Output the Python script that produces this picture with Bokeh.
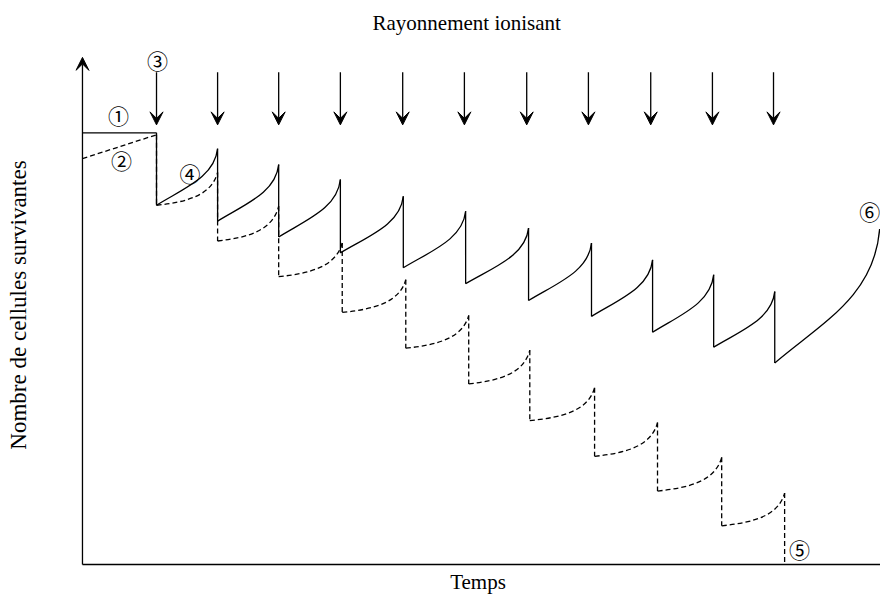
from bokeh.plotting import figure
from bokeh.models import Range1d, FixedTicker, Arrow, VeeHead, Label, ColumnDataSource
from bokeh.embed import file_html
from bokeh.resources import INLINE

# ---- data (time in dose intervals, cell number in arbitrary units) ----
dose_times = [1.20, 2.19, 3.18, 4.18, 5.19, 6.19, 7.20, 8.20, 9.21, 10.21, 11.20]
arrow_from = 496
arrow_to = 443

solid_start = 435
solid_drop_t = [1.20, 2.19, 3.18, 4.18, 5.20, 6.21, 7.23, 8.25, 9.24, 10.23, 11.22]
solid_peak = [435, 419, 403, 388, 371, 356, 339, 324, 307, 292, 275]
solid_trough = [362, 346, 330, 314, 299, 283, 266, 250, 234, 219, 203]
solid_end_t = 12.92
solid_end = 338

dashed_start = 409
dashed_drop_t = [1.20, 2.19, 3.18, 4.21, 5.24, 6.26, 7.25, 8.30, 9.32, 10.36, 11.38]
dashed_peak = [433, 395, 361, 324, 287, 251, 216, 178, 143, 108, 72]
dashed_trough = [362, 326, 290, 254, 218, 182, 145, 109, 74, 39, 0]

axis_top = 511
t_end = 12.934

labels = ["\u2460", "\u2461", "\u2462", "\u2463", "\u2464", "\u2465"]

SERIF = "Liberation Serif"
LW = 1.3
DASH = "5 3"


def curves(x0s, y0s, x1s, y1s, a0, b0, a1, b1):
    d = dict(x0=[], y0=[], x1=[], y1=[], cx0=[], cy0=[], cx1=[], cy1=[])
    for x0, y0, x1, y1 in zip(x0s, y0s, x1s, y1s):
        dx, dy = x1 - x0, y1 - y0
        d["x0"].append(x0); d["y0"].append(y0)
        d["x1"].append(x1); d["y1"].append(y1)
        d["cx0"].append(x0 + a0 * dx); d["cy0"].append(y0 + b0 * dy)
        d["cx1"].append(x1 - a1 * dx); d["cy1"].append(y1 - b1 * dy)
    return ColumnDataSource(d)


p = figure(width=880, height=596, x_range=Range1d(-0.113, t_end), y_range=Range1d(-3, 526),
           output_backend="svg", toolbar_location=None,
           min_border_left=75, min_border_right=0, min_border_top=40, min_border_bottom=27)
p.outline_line_color = None
p.xgrid.visible = False
p.ygrid.visible = False
p.background_fill_color = "white"
p.border_fill_color = "white"

p.title.text = "Rayonnement ionisant"
p.title.text_font = SERIF
p.title.text_font_size = "21px"
p.title.text_font_style = "normal"
p.title.text_color = "black"
p.title.align = "left"
p.title.offset = 297
p.title.standoff = 16

for ax, lab, fs in ((p.xaxis[0], "Temps", "21px"),
                    (p.yaxis[0], "Nombre de cellules survivantes", "23px")):
    ax.ticker = FixedTicker(ticks=[])
    ax.major_tick_out = 0
    ax.major_tick_in = 0
    ax.minor_tick_out = 0
    ax.minor_tick_in = 0
    ax.major_label_standoff = 0
    ax.axis_line_color = None
    ax.axis_label = lab
    ax.axis_label_text_font = SERIF
    ax.axis_label_text_font_size = fs
    ax.axis_label_text_font_style = "normal"
    ax.axis_label_text_color = "black"
p.xaxis[0].axis_label_standoff = 2
p.yaxis[0].axis_label_standoff = 45

# axes drawn as lines, y axis with arrow head
p.segment(x0=[0], y0=[0], x1=[t_end], y1=[0], line_color="black", line_width=LW)
p.add_layout(Arrow(end=VeeHead(size=13, fill_color="black", line_color="black"),
                   x_start=0, y_start=0, x_end=0, y_end=axis_top,
                   line_color="black", line_width=LW))

# irradiation arrows
asrc = ColumnDataSource(dict(x=dose_times, y0=[arrow_from] * len(dose_times),
                             y1=[arrow_to] * len(dose_times)))
p.add_layout(Arrow(end=VeeHead(size=13, fill_color="black", line_color="black"),
                   x_start="x", y_start="y0", x_end="x", y_end="y1", source=asrc,
                   line_color="black", line_width=LW))

# solid curve (1)
p.segment(x0=[0], y0=[solid_start], x1=[solid_drop_t[0]], y1=[solid_peak[0]],
          line_color="black", line_width=LW)
p.segment(x0=solid_drop_t, y0=solid_peak, x1=solid_drop_t, y1=solid_trough,
          line_color="black", line_width=LW)
ssrc = curves(solid_drop_t, solid_trough,
              solid_drop_t[1:] + [solid_end_t], solid_peak[1:] + [solid_end],
              0.45, 0.30, 0.05, 0.50)
p.bezier(x0="x0", y0="y0", x1="x1", y1="y1", cx0="cx0", cy0="cy0", cx1="cx1", cy1="cy1",
         source=ssrc, line_color="black", line_width=LW)

# dashed curve (2)
p.segment(x0=[0], y0=[dashed_start], x1=[dashed_drop_t[0]], y1=[dashed_peak[0]],
          line_color="black", line_width=LW, line_dash=DASH)
p.segment(x0=dashed_drop_t, y0=dashed_peak, x1=dashed_drop_t, y1=dashed_trough,
          line_color="black", line_width=LW, line_dash=DASH)
dsrc = curves(dashed_drop_t[:-1], dashed_trough[:-1], dashed_drop_t[1:], dashed_peak[1:],
              0.50, 0.10, 0.10, 0.70)
p.bezier(x0="x0", y0="y0", x1="x1", y1="y1", cx0="cx0", cy0="cy0", cx1="cx1", cy1="cy1",
         source=dsrc, line_color="black", line_width=LW, line_dash=DASH)

# circled markers
label_pos = [
    (solid_drop_t[0] / 2, solid_start, -1, 18),
    (solid_drop_t[0] / 2, (dashed_start + dashed_peak[0]) / 2, 2, -13),
    (dose_times[0], arrow_from, 1, 12),
    ((solid_drop_t[0] + solid_drop_t[1]) / 2, solid_trough[0], 3, 32),
    (dashed_drop_t[-1], dashed_trough[-1], 15, 16),
    (solid_end_t, solid_end, -10, 18),
]
for txt, (lx, ly, ox, oy) in zip(labels, label_pos):
    p.add_layout(Label(x=lx, y=ly, x_offset=ox, y_offset=oy, text=txt,
                       text_font="Noto Sans CJK JP", text_font_size="21px",
                       text_align="center", text_baseline="middle", text_color="black"))

open("out.html", "w").write(file_html(p, INLINE))
